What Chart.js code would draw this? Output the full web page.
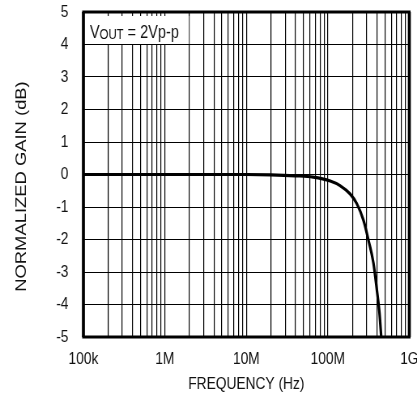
<!DOCTYPE html>
<html>
<head>
<meta charset="utf-8">
<script src="https://cdn.jsdelivr.net/npm/chart.js@4/dist/chart.umd.min.js"></script>
<style>
  html, body { margin: 0; padding: 0; background: #fff; }
  #wrap { width: 417px; height: 395px; overflow: hidden; }
</style>
</head>
<body>
<!-- the drawing surface is wider than its box, so the lettering reads condensed -->
<div id="wrap"><canvas id="c" width="515" height="395" style="display:block;width:417px;height:395px"></canvas></div>
<script>
// Normalized gain vs frequency (VOUT = 2Vp-p)
const frequencyHz = [1e5, 1e6, 1e7, 2e7, 4e7, 6.6e7, 1.07e8, 1.41e8, 1.88e8, 2.27e8, 2.74e8, 3.15e8, 3.63e8, 4.0e8, 4.3e8, 4.52e8];
const gainDb      = [0,   0,   0,  -0.01, -0.04, -0.08, -0.2, -0.34, -0.6, -0.9, -1.41, -2.02, -2.73, -3.56, -4.26, -5.0];

const decadeTicks  = [1e5, 1e6, 1e7, 1e8, 1e9];
const decadeLabels = ['100k', '1M', '10M', '100M', '1G'];
const gainTicks    = [-5, -4, -3, -2, -1, 0, 1, 2, 3, 4, 5];

const xTitle = 'FREQUENCY (Hz)';
const yTitle = 'NORMALIZED GAIN (dB)';

const FONT = '"Liberation Sans", Arial, sans-serif';
const TEXT = '#111';

// white legend box with the test condition, upper left of the plot
const conditionBox = {
  id: 'conditionBox',
  beforeDatasetsDraw(chart) {
    const { ctx, chartArea, scales } = chart;
    const x0 = chartArea.left + 2;
    const x1 = scales.x.getPixelForValue(2e6) - 0.6;
    const y0 = chartArea.top + 4;
    const y1 = scales.y.getPixelForValue(4) - 0.5;
    ctx.save();
    ctx.fillStyle = '#fff';
    ctx.fillRect(x0, y0, x1 - x0, y1 - y0);
    ctx.fillStyle = TEXT;
    ctx.textBaseline = 'alphabetic';
    ctx.textAlign = 'left';
    let x = chartArea.left + 8;
    const base = y1 - 6.5;
    ctx.font = '18px ' + FONT;
    ctx.fillText('V', x, base);
    x += ctx.measureText('V').width;
    ctx.font = '14px ' + FONT;
    ctx.fillText('OUT', x, base + 1.5);
    x += ctx.measureText('OUT').width;
    ctx.font = '18px ' + FONT;
    ctx.fillText(' = 2Vp-p', x, base);
    ctx.restore();
  }
};

// heavy frame round the plot and the rotated y-axis title
const frameAndTitle = {
  id: 'frameAndTitle',
  afterDraw(chart) {
    const { ctx, chartArea } = chart;
    ctx.save();
    ctx.strokeStyle = '#000';
    ctx.lineWidth = 3;
    ctx.beginPath();
    ctx.moveTo(chartArea.left - 1.5, chartArea.top);
    ctx.lineTo(chartArea.right + 1.5, chartArea.top);
    ctx.moveTo(chartArea.left - 1.5, chartArea.bottom);
    ctx.lineTo(chartArea.right + 1.5, chartArea.bottom);
    ctx.stroke();
    ctx.lineWidth = 3.7;
    ctx.beginPath();
    ctx.moveTo(chartArea.left, chartArea.top);
    ctx.lineTo(chartArea.left, chartArea.bottom);
    ctx.moveTo(chartArea.right, chartArea.top);
    ctx.lineTo(chartArea.right, chartArea.bottom);
    ctx.stroke();
    ctx.translate(27, 186.5);
    ctx.rotate(-Math.PI / 2);
    ctx.font = '18.4px ' + FONT;
    ctx.fillStyle = TEXT;
    ctx.textAlign = 'center';
    ctx.textBaseline = 'middle';
    ctx.fillText(yTitle, 0, 0);
    ctx.restore();
  }
};

new Chart(document.getElementById('c'), {
  type: 'line',
  data: {
    datasets: [{
      data: frequencyHz.map((f, i) => ({ x: f, y: gainDb[i] })),
      borderColor: '#000',
      borderWidth: 3.2,
      pointRadius: 0,
      fill: false,
      cubicInterpolationMode: 'monotone'
    }]
  },
  options: {
    responsive: false,
    devicePixelRatio: 1,
    animation: false,
    layout: { padding: { top: 12, right: 9.5, left: 0, bottom: 0 } },
    plugins: { legend: { display: false }, tooltip: { enabled: false } },
    scales: {
      x: {
        type: 'logarithmic',
        min: 1e5,
        max: 1e9,
        afterBuildTicks(scale) {
          const ticks = [];
          decadeTicks.forEach((d, i) => {
            if (i === decadeTicks.length - 1) { ticks.push({ value: d }); return; }
            for (let m = 1; m <= 9; m++) ticks.push({ value: m * d });
          });
          scale.ticks = ticks;
        },
        afterFit(scale) {
          scale.height = 58;
          scale.paddingLeft = 0;
          scale.paddingRight = 0;
        },
        ticks: {
          autoSkip: false,
          maxRotation: 0,
          minRotation: 0,
          padding: 12.5,
          color: TEXT,
          font: { family: FONT, size: 17 },
          callback(value) {
            const i = decadeTicks.indexOf(value);
            return i >= 0 ? decadeLabels[i] : '';
          }
        },
        grid: { color: '#000', lineWidth: 1.2, drawTicks: false },
        border: { display: false },
        title: {
          display: true,
          text: xTitle,
          color: TEXT,
          font: { family: FONT, size: 17 },
          padding: { top: 0, bottom: 0 }
        }
      },
      y: {
        type: 'linear',
        min: -5,
        max: 5,
        afterBuildTicks(scale) {
          scale.ticks = gainTicks.map(v => ({ value: v }));
        },
        afterFit(scale) {
          scale.width = 103;
          scale.paddingTop = 0;
          scale.paddingBottom = 0;
        },
        ticks: {
          padding: 18.5,
          color: TEXT,
          font: { family: FONT, size: 17 }
        },
        grid: { color: '#000', lineWidth: 1, drawTicks: false },
        border: { display: false }
      }
    }
  },
  plugins: [conditionBox, frameAndTitle]
});
</script>
</body>
</html>
